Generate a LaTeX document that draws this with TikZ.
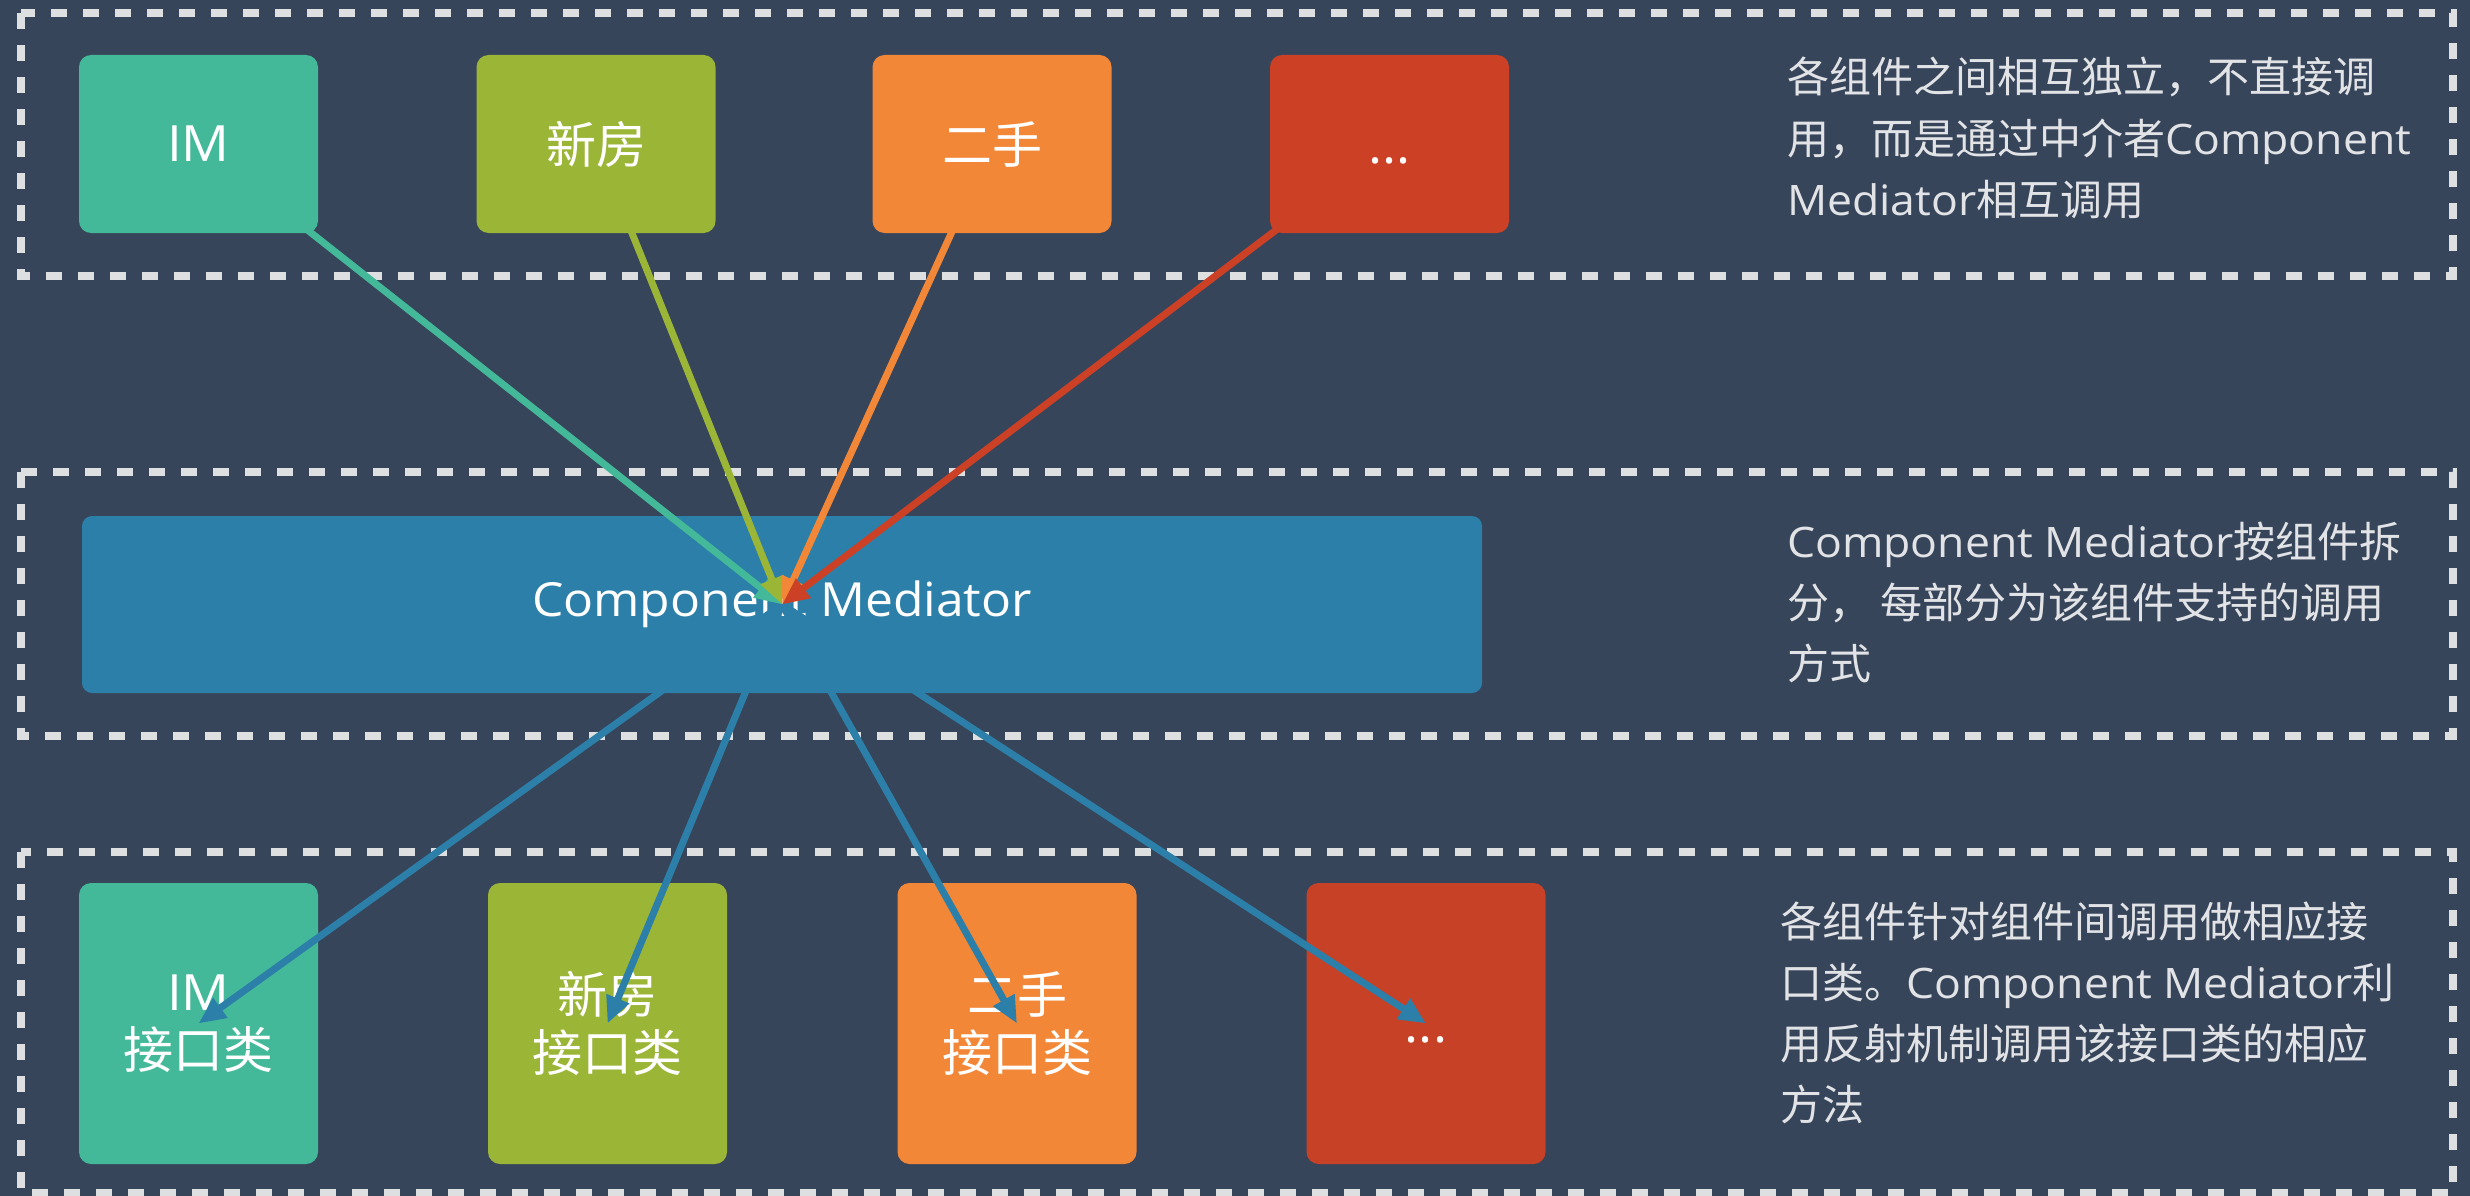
\documentclass[tikz,border=0pt]{standalone}
\usepackage{fontspec}
\setmainfont{Open Sans}[FakeStretch=1.06]
\newfontfamily\cjk{Noto Sans CJK SC}
\newcommand\zh[1]{{\cjk #1}}
\usetikzlibrary{arrows.meta}
\definecolor{bgc}{HTML}{37455A}
\definecolor{dashc}{HTML}{DEDFE1}
\definecolor{tealc}{HTML}{43B99A}
\definecolor{greenc}{HTML}{9BB537}
\definecolor{orangec}{HTML}{F28737}
\definecolor{redc}{HTML}{CC4125}
\definecolor{redb}{HTML}{C64126}
\definecolor{bluec}{HTML}{2C7FA8}
\definecolor{txtc}{HTML}{E1E3E6}
\pgfdeclarelayer{back}
\pgfdeclarelayer{low}
\pgfdeclarelayer{mid}
\pgfsetlayers{back,low,mid,main}
\tikzset{
  dashbox/.style={draw=dashc, line width=8pt, dash pattern=on 16pt off 16pt},
  compbox/.style={rectangle, rounded corners=12pt, minimum width=239pt, inner sep=0pt, text=white},
  topbox/.style={compbox, minimum height=178pt, font=\fontsize{50}{60}\selectfont},
  botbox/.style={compbox, minimum height=281pt, align=center, font=\fontsize{50}{58}\selectfont},
  conn/.style={line width=7pt, -{Triangle[length=27pt,width=23pt]}},
  note/.style={anchor=base west, inner sep=0pt, text=txtc, font=\fontsize{42}{61}\selectfont}
}
\begin{document}
\begin{tikzpicture}[x=1pt,y=-1pt]
\useasboundingbox (0,0) rectangle (2470,1196);
\begin{pgfonlayer}{back}
\fill[bgc] (0,0) rectangle (2470,1196);
\draw[dashbox] (21,13) rectangle (2453,276);
\draw[dashbox] (21,472) rectangle (2453,736);
\draw[dashbox] (21,852) rectangle (2453,1193);
\end{pgfonlayer}

% top component boxes
\node[topbox, fill=tealc] (t1) at (198.5,144) {IM};
\node[topbox, fill=greenc] (t2) at (596,144) {\zh{新房}};
\node[topbox, fill=orangec] (t3) at (992,144) {\zh{二手}};
\node[topbox, fill=redc] (t4) at (1389.5,144) {\vphantom{\zh{新}}...};

\begin{pgfonlayer}{low}
\node[rectangle, rounded corners=10pt, fill=bluec, minimum width=1400pt, minimum height=177pt, inner sep=0pt, text=white, font=\fontsize{47}{56}\selectfont] (med) at (782,604.5) {Component Mediator};
\node[botbox, fill=tealc] (b1) at (198.5,1023.5) {IM\\\zh{接口类}};
\node[botbox, fill=greenc] (b2) at (607.5,1023.5) {\zh{新房}\\\zh{接口类}};
\node[botbox, fill=orangec] (b3) at (1017,1023.5) {\zh{二手}\\\zh{接口类}};
\node[botbox, fill=redb] (b4) at (1426,1023.5) {\vphantom{\zh{新}}...};
\draw[conn, bluec] (med.center) -- (b1.center);
\draw[conn, bluec] (med.center) -- (b2.center);
\draw[conn, bluec] (med.center) -- (b3.center);
\draw[conn, bluec] (med.center) -- (b4.center);
\end{pgfonlayer}

\begin{pgfonlayer}{mid}
\draw[conn, tealc] (t1.center) -- (med.center);
\draw[conn, greenc] (t2.center) -- (med.center);
\draw[conn, orangec] (t3.center) -- (med.center);
\draw[conn, redc] (t4.center) -- (med.center);
\end{pgfonlayer}

% notes
\node[note] (n1a) at (1787,93) {\zh{各组件之间相互独立，不直接调}};
\node[note] (n1b) at (1787,154) {\zh{用，而是通过中介者}Component};
\node[note] (n1c) at (1787,215) {Mediator\zh{相互调用}};

\node[note] (n2a) at (1787,557) {Component Mediator\zh{按组件拆}};
\node[note] (n2b) at (1787,618) {\zh{分， 每部分为该组件支持的调用}};
\node[note] (n2c) at (1787,679) {\zh{方式}};

\node[note] (n3a) at (1780,937) {\zh{各组件针对组件间调用做相应接}};
\node[note] (n3b) at (1780,998) {\zh{口类。}Component Mediator\zh{利}};
\node[note] (n3c) at (1780,1059) {\zh{用反射机制调用该接口类的相应}};
\node[note] (n3d) at (1780,1120) {\zh{方法}};
\end{tikzpicture}
\end{document}
